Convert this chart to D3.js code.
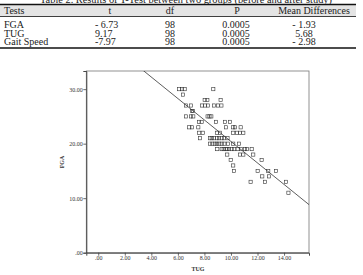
<!DOCTYPE html>
<html>
<head>
<meta charset="utf-8">
<script src="https://cdn.jsdelivr.net/npm/d3@7"></script>
<style>
  body { margin: 0; background: #fff; }
  svg { display: block; }
</style>
</head>
<body>
<svg id="chart" width="363" height="275"></svg>
<script>
// table data
let tableHead = ["Tests", "t", "df", "P", "Mean Differences"];
let tests = ["FGA", "TUG", "Gait Speed"];
let tValues = ["- 6.73", "9.17", "-7.97"];
let dfValues = ["98", "98", "98"];
let pValues = ["0.0005", "0.0005", "0.0005"];
let meanDiffs = ["- 1.93", "5.68", "- 2.98"];

// scatter data: TUG (x) vs FGA (y)
let tug = [6.10, 6.31, 6.51, 8.67,
  6.38,
  8.02, 8.22, 9.22,
  6.61, 6.99, 7.81, 8.04, 8.27, 8.72, 9.02, 9.28,
  7.06, 7.14,
  6.61, 6.99, 7.16, 8.24, 8.38, 8.52,
  7.59, 7.79, 8.87, 9.55, 9.92,
  6.86, 7.06, 7.54, 9.62, 10.17, 10.30, 10.73,
  7.61, 7.87, 8.94, 9.17, 10.17, 10.45, 10.68, 10.93,
  7.66, 8.42, 8.55, 8.72, 8.94, 9.10, 9.30, 9.47, 9.74,
  8.42, 8.60, 8.78, 8.95, 9.12, 9.30, 9.50, 9.77, 10.17, 10.60,
  8.97, 9.30, 9.45, 9.60, 9.72, 9.85, 10.05, 10.25, 10.50, 10.75, 11.05, 11.21, 11.56,
  9.72, 10.68, 10.93, 11.68,
  9.98, 12.31,
  10.17,
  10.23, 12.01, 12.81, 13.39,
  12.36, 12.86,
  11.48, 12.56, 14.14,
  14.33];
let fga = [30, 30, 30, 30,
  29,
  28, 28, 28,
  27, 27, 27, 27, 27, 27, 27, 27,
  26, 26,
  25, 25, 25, 25, 25, 25,
  24, 24, 24, 24, 24,
  23, 23, 23, 23, 23, 23, 23,
  22, 22, 22, 22, 22, 22, 22, 22,
  21, 21, 21, 21, 21, 21, 21, 21, 21,
  20, 20, 20, 20, 20, 20, 20, 20, 20, 20,
  19, 19, 19, 19, 19, 19, 19, 19, 19, 19, 19, 19, 19,
  18, 18, 18, 18,
  17, 17,
  16,
  15, 15, 15, 15,
  14, 14,
  13, 13, 13,
  11];

// fit line FGA = a + b * TUG
let fitIntercept = 40.1;
let fitSlope = -1.97;

let xTicks = [0, 2, 4, 6, 8, 10, 12, 14];
let yTicks = [0, 10, 20, 30];

let svg = d3.select("#chart");
let serif = "'Liberation Serif', 'Times New Roman', serif";

// ---- table ----
// caption, mostly cut off by the top edge
svg.append("text")
   .attr("x", 40).attr("y", 2.5)
   .attr("textLength", 292).attr("lengthAdjust", "spacingAndGlyphs")
   .attr("font-family", serif).attr("font-size", 10.5)
   .attr("fill", "#222")
   .text("Table 2. Results of T-Test between two groups (before and after study)");

svg.append("rect")
   .attr("x", 0).attr("y", 4.5).attr("width", 356).attr("height", 12)
   .attr("fill", "#e4e4e4");

svg.append("line").attr("x1", 0).attr("x2", 356).attr("y1", 4.5).attr("y2", 4.5)
   .attr("stroke", "#111").attr("stroke-width", 1.4);
svg.append("line").attr("x1", 0).attr("x2", 356).attr("y1", 16.5).attr("y2", 16.5)
   .attr("stroke", "#111").attr("stroke-width", 0.8);
svg.append("line").attr("x1", 0).attr("x2", 356).attr("y1", 48).attr("y2", 48)
   .attr("stroke", "#111").attr("stroke-width", 1.4);

let headX = [4, 110, 170, 237, 314];
let headAnchor = ["start", "middle", "middle", "middle", "middle"];
svg.selectAll(".head")
   .data(tableHead)
   .enter()
   .append("text")
   .attr("class", "head")
   .attr("x", (d, i) => headX[i])
   .attr("y", 13.5)
   .attr("text-anchor", (d, i) => headAnchor[i])
   .attr("font-family", serif).attr("font-size", 10)
   .attr("fill", "#222")
   .text(d => d);

let rowY = [27.5, 36.5, 44.8];
let rows = tests.map((d, i) => [d, tValues[i], dfValues[i], pValues[i], meanDiffs[i]]);
let colX = [4, 95, 170, 236, 304];
let colAnchor = ["start", "start", "middle", "middle", "middle"];
rows.forEach((r, i) => {
  svg.selectAll(".row" + i)
     .data(r)
     .enter()
     .append("text")
     .attr("x", (d, j) => colX[j])
     .attr("y", rowY[i])
     .attr("text-anchor", (d, j) => colAnchor[j])
     .attr("font-family", serif).attr("font-size", 10)
     .attr("fill", "#222")
     .text(d => d);
});

// ---- scatter ----
let plotL = 86.3, plotR = 309, plotT = 71, plotB = 252.7;

let xScale = d3.scaleLinear()
               .domain([-0.9, 15.88])
               .range([plotL, plotR]);
let yScale = d3.scaleLinear()
               .domain([0, 33.33])
               .range([plotB, plotT]);

svg.append("clipPath").attr("id", "plotClip")
   .append("rect")
   .attr("x", plotL).attr("y", plotT)
   .attr("width", plotR - plotL).attr("height", plotB - plotT);

// frame
svg.append("rect")
   .attr("x", plotL).attr("y", plotT)
   .attr("width", plotR - plotL).attr("height", plotB - plotT)
   .attr("fill", "none")
   .attr("stroke", "#777").attr("stroke-width", 0.8);

let xAxis = d3.axisBottom(xScale)
              .tickValues(xTicks)
              .tickSize(3)
              .tickFormat(d => d === 0 ? ".00" : d3.format(".2f")(d));
let yAxis = d3.axisLeft(yScale)
              .tickValues(yTicks)
              .tickSize(3)
              .tickFormat(d => d === 0 ? ".00" : d3.format(".2f")(d));

let gx = svg.append("g")
            .attr("transform", `translate(0,${plotB})`)
            .call(xAxis);
let gy = svg.append("g")
            .attr("transform", `translate(${plotL},0)`)
            .call(yAxis);

[gx, gy].forEach(g => {
  g.select(".domain").attr("stroke", "#444").attr("stroke-width", 1);
  g.selectAll(".tick line").attr("stroke", "#444").attr("stroke-width", 0.8);
  g.selectAll(".tick text")
   .attr("font-family", serif).attr("font-size", 6)
   .attr("fill", "#333");
});
gx.selectAll(".tick text").attr("dy", "0.3em").attr("y", 6);
gy.selectAll(".tick text").attr("x", -3.5);

// fit line
svg.append("line")
   .attr("clip-path", "url(#plotClip)")
   .attr("x1", xScale(-0.9)).attr("y1", yScale(fitIntercept + fitSlope * -0.9))
   .attr("x2", xScale(15.88)).attr("y2", yScale(fitIntercept + fitSlope * 15.88))
   .attr("stroke", "#333").attr("stroke-width", 0.8);

// points
let pts = tug.map((d, i) => ({x: d, y: fga[i]}));
let s = 3.2;
svg.selectAll(".pt")
   .data(pts)
   .enter()
   .append("rect")
   .attr("class", "pt")
   .attr("x", d => xScale(d.x) - s / 2)
   .attr("y", d => yScale(d.y) - s / 2)
   .attr("width", s).attr("height", s)
   .attr("fill", "none")
   .attr("stroke", "#333").attr("stroke-width", 0.6);

// axis titles
svg.append("text")
   .attr("x", 198).attr("y", 271)
   .attr("text-anchor", "middle")
   .attr("font-family", serif).attr("font-size", 6).attr("font-weight", "bold")
   .attr("fill", "#333")
   .text("TUG");
svg.append("text")
   .attr("transform", "translate(64,162) rotate(-90)")
   .attr("text-anchor", "middle")
   .attr("font-family", serif).attr("font-size", 6).attr("font-weight", "bold")
   .attr("fill", "#333")
   .text("FGA");
</script>
</body>
</html>
